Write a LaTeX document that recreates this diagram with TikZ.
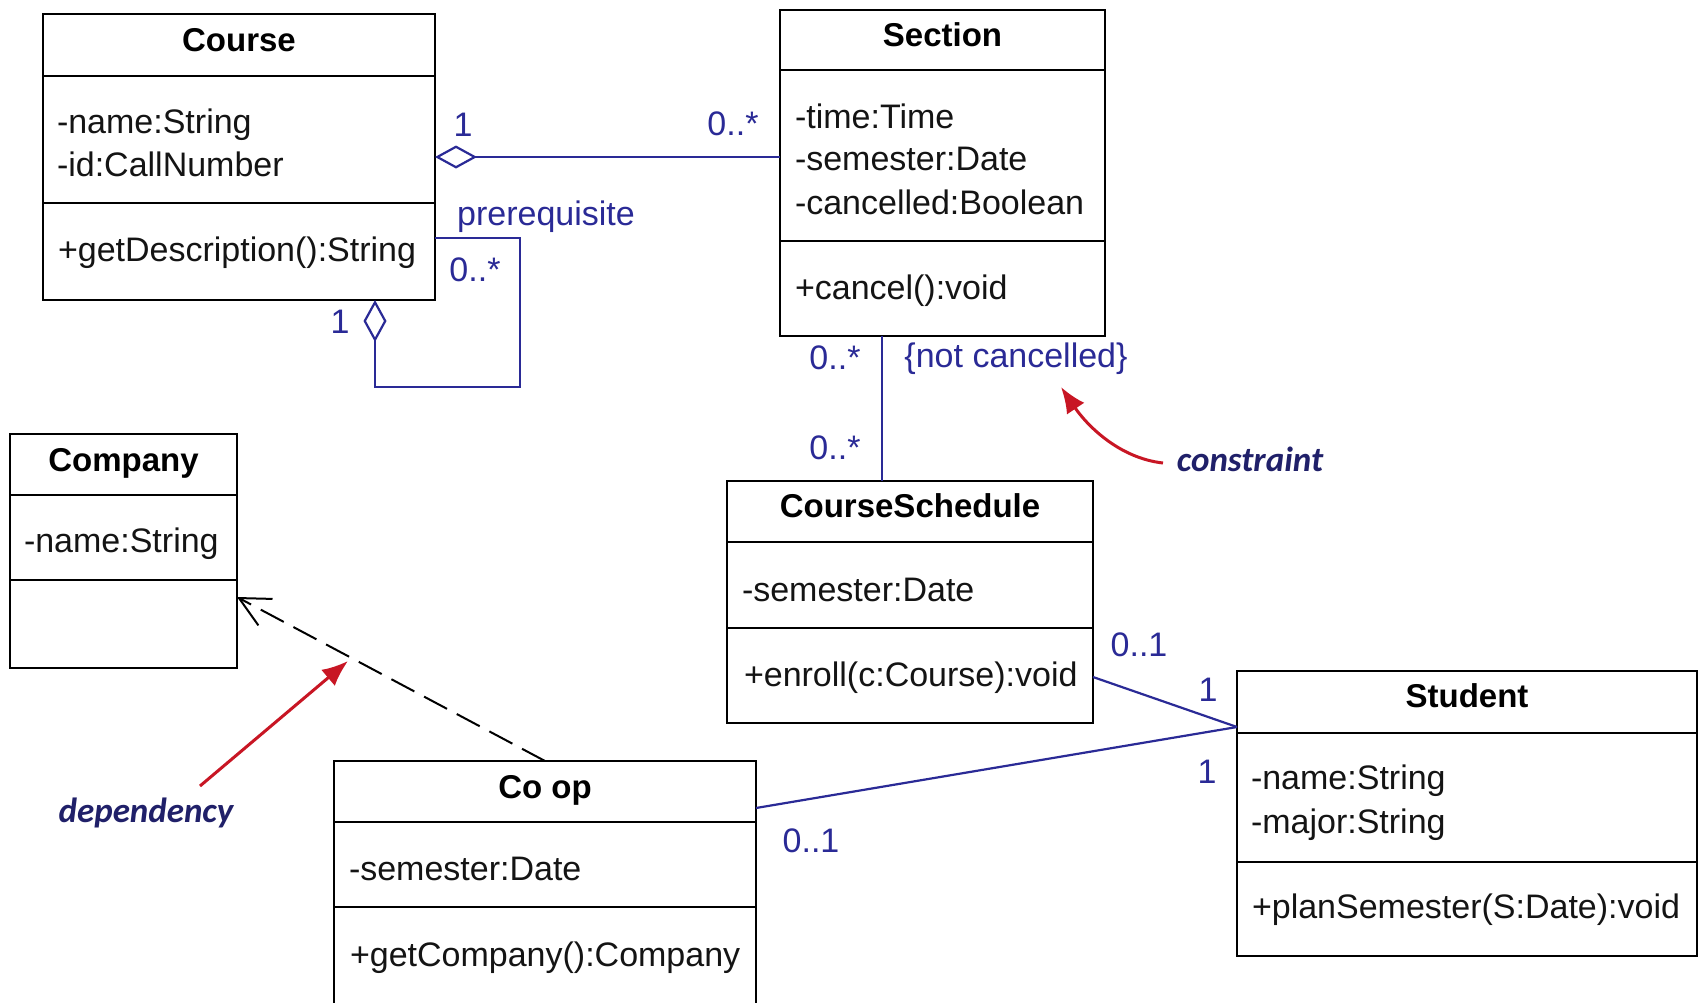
\documentclass[tikz,border=0pt]{standalone}
\usepackage{fontspec}
\setmainfont{Liberation Sans}
\newfontfamily\annotfont{Carlito}
\usetikzlibrary{arrows.meta}
\definecolor{umlblue}{RGB}{42,42,150}
\definecolor{annotnavy}{RGB}{32,32,105}
\definecolor{annotred}{RGB}{200,22,36}
\begin{document}
\begin{tikzpicture}[x=1pt,y=-1pt,
  every node/.style={inner sep=0pt, outer sep=0pt, font=\fontsize{34}{40}\selectfont},
  cls/.style={draw=black, line width=2.6pt, anchor=north west, inner sep=0pt},
  divider/.style={draw=black, line width=2.6pt},
  clstitle/.style={font=\fontsize{33}{40}\selectfont\bfseries, anchor=base},
  member/.style={anchor=base west, text=black!92},
  mult/.style={text=umlblue},
  assoc/.style={draw=umlblue, line width=2.2pt},
  dep/.style={draw=black, line width=2pt, dash pattern=on 26pt off 11pt},
  annot/.style={font=\fontsize{35}{40}\selectfont\annotfont\bfseries\itshape, text=annotnavy},
  redarrow/.style={draw=annotred, line width=3pt, -{Latex[length=26pt,width=21pt]}}
]
\useasboundingbox (0,0) rectangle (1700,1002);
\fill[white] (0,0) rectangle (1700,1002);
\clip (0,0) rectangle (1700,1002);

% ---------- Course ----------
\node[cls, minimum width=392pt, minimum height=286pt] (course) at (43,14) {};
\draw[divider] (course.west |- 0,76) -- (course.east |- 0,76);
\draw[divider] (course.west |- 0,203) -- (course.east |- 0,203);
\node[clstitle] (course-t) at (course.north |- 0,51) {Course};
\node[member] (course-a1) at (57,133) {-name:String};
\node[member] (course-a2) at (57,176) {-id:CallNumber};
\node[member] (course-m1) at (58,261) {+getDescription():String};

% ---------- Section ----------
\node[cls, minimum width=325pt, minimum height=326pt] (section) at (780,10) {};
\draw[divider] (section.west |- 0,70) -- (section.east |- 0,70);
\draw[divider] (section.west |- 0,241) -- (section.east |- 0,241);
\node[clstitle] (section-t) at (section.north |- 0,46) {Section};
\node[member] (section-a1) at (795,128) {-time:Time};
\node[member] (section-a2) at (795,170) {-semester:Date};
\node[member] (section-a3) at (795,214) {-cancelled:Boolean};
\node[member] (section-m1) at (795,299) {+cancel():void};

% ---------- Company ----------
\node[cls, minimum width=227pt, minimum height=234pt] (company) at (10,434) {};
\draw[divider] (company.west |- 0,495) -- (company.east |- 0,495);
\draw[divider] (company.west |- 0,580) -- (company.east |- 0,580);
\node[clstitle] (company-t) at (company.north |- 0,471) {Company};
\node[member] (company-a1) at (24,552) {-name:String};

% ---------- CourseSchedule ----------
\node[cls, minimum width=366pt, minimum height=242pt] (sched) at (727,481) {};
\draw[divider] (sched.west |- 0,542) -- (sched.east |- 0,542);
\draw[divider] (sched.west |- 0,628) -- (sched.east |- 0,628);
\node[clstitle] (sched-t) at (sched.north |- 0,517) {CourseSchedule};
\node[member] (sched-a1) at (742,601) {-semester:Date};
\node[member] (sched-m1) at (744,686) {+enroll(c:Course):void};

% ---------- Student ----------
\node[cls, minimum width=460pt, minimum height=285pt] (student) at (1237,671) {};
\draw[divider] (student.west |- 0,733) -- (student.east |- 0,733);
\draw[divider] (student.west |- 0,862) -- (student.east |- 0,862);
\node[clstitle] (student-t) at (student.north |- 0,707) {Student};
\node[member] (student-a1) at (1251,789) {-name:String};
\node[member] (student-a2) at (1251,833) {-major:String};
\node[member] (student-m1) at (1252,918) {+planSemester(S:Date):void};

% ---------- Co op ----------
\node[cls, minimum width=422pt, minimum height=280pt] (coop) at (334,761) {};
\draw[divider] (coop.west |- 0,822) -- (coop.east |- 0,822);
\draw[divider] (coop.west |- 0,907) -- (coop.east |- 0,907);
\node[clstitle] (coop-t) at (coop.north |- 0,798) {Co op};
\node[member] (coop-a1) at (349,880) {-semester:Date};
\node[member] (coop-m1) at (350,966) {+getCompany():Company};

% ---------- Course -- Section aggregation ----------
\draw[assoc, {Diamond[open,length=42pt,width=23pt]}-] (course.east) -- (course.east -| section.west);
\node[mult] (m-cs1) at (463,125) {1};
\node[mult] (m-cs2) at (733,124) {0..*};

% ---------- prerequisite self-aggregation ----------
\coordinate (pr-a) at (520,238);
\coordinate (pr-b) at (375,387);
\draw[assoc, -{Diamond[open,length=42pt,width=23pt]}]
  (course.east |- pr-a) -- (pr-a) |- (pr-b) -- (pr-b |- course.south);
\node[mult] (m-pr1) at (340,322) {1};
\node[mult] (m-pr2) at (475,270) {0..*};
\node[mult] (pr-label) at (546,217) {prerequisite};

% ---------- Section -- CourseSchedule ----------
\coordinate (vx) at (882,0);
\draw[assoc] (section.south -| vx) -- (sched.north -| vx);
\node[mult] (m-ss1) at (835,358) {0..*};
\node[mult] (m-ss2) at (835,448) {0..*};
\node[mult] (notc) at (1016,359) {\{not cancelled\}};

% ---------- constraint annotation ----------
\node[annot] (constraint) at (1250,459) {constraint};
\coordinate (ctail) at (1163,463);
\coordinate (ctip) at (1061,387);
\draw[redarrow] (ctail) .. controls (1118,458) and (1086,424) .. (ctip);

% ---------- Student associations ----------
\coordinate (meet) at (student.west |- 0,727);
\draw[assoc] (sched.east |- 0,677) -- (meet);
\draw[assoc] (coop.east |- 0,808) -- (meet);
\node[mult] (m-st1) at (1139,645) {0..1};
\node[mult] (m-st2) at (1208,690) {1};
\node[mult] (m-st3) at (1207,772) {1};
\node[mult] (m-st4) at (811,841) {0..1};

% ---------- dependency ----------
\draw[dep, -{Straight Barb[length=30pt,width=30pt,line width=2pt]}] (coop.north) -- (company.east |- 0,597);
\node[annot] (deplabel) at (146,813) {dependency};
\coordinate (dtail) at (200,786);
\coordinate (dtip) at (348,661);
\draw[redarrow] (dtail) -- (dtip);
\end{tikzpicture}
\end{document}
